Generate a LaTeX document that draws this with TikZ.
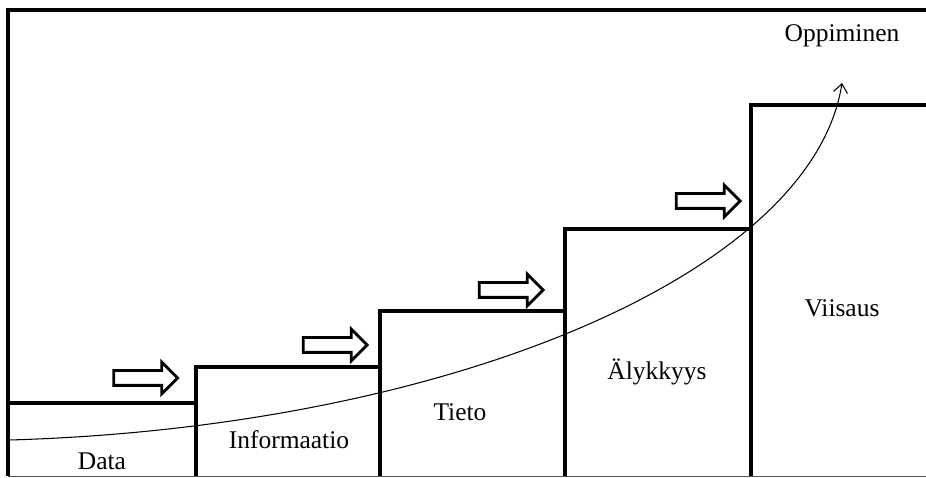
\documentclass[tikz,border=0pt]{standalone}
\usepackage{fontspec}
\setmainfont{Liberation Serif}
\usetikzlibrary{shapes.arrows, arrows.meta}

\begin{document}
\begin{tikzpicture}[stair/.style={line width=2.3pt, line join=miter},
		lbl/.style={font=\fontsize{14.5}{17}\selectfont},
		blk/.style={single arrow, draw, line width=1.6pt, inner xsep=0pt, inner ysep=0.12cm,
			minimum height=1.28cm, single arrow head extend=0.17cm, single arrow tip angle=90}]
		\useasboundingbox (0,0) rectangle (18.52,9.56);

		% frame
		\draw[line width=2.3pt] (18.6,9.36) -- (0.16,9.36) -- (0.16,0.03);
		\draw[gray!70!black, line width=1.1pt] (0.16,0.03) -- (18.6,0.03);

		% stairs
		\draw[stair] (0.16,0.03) |- (3.92,1.5) -- (3.92,0.03);
		\draw[stair] (3.92,1.5) |- (7.6,2.22) -- (7.6,0.03);
		\draw[stair] (7.6,2.22) |- (11.3,3.34) -- (11.3,0.03);
		\draw[stair] (11.3,3.34) |- (15.02,4.98) -- (15.02,0.03);
		\draw[stair] (15.02,4.98) |- (18.7,7.46);

		\node [lbl] (data) at (2.04,0.34) {Data};
		\node [lbl] (info) at (5.78,0.76) {Informaatio};
		\node [lbl] (tieto) at (9.2,1.32) {Tieto};
		\node [lbl] (aly) at (13.14,2.12) {Älykkyys};
		\node [lbl] (viis) at (16.84,3.4) {Viisaus};
		\node [lbl] (oppi) at (16.84,8.84) {Oppiminen};

		% block arrows between the steps
		\node [blk] (a1) at (2.84,2.0) {};
		\node [blk] (a2) at (6.63,2.66) {};
		\node [blk] (a3) at (10.15,3.76) {};
		\node [blk] (a4) at (14.09,5.54) {};

		% learning curve
		\coordinate (start) at (0.2,0.76);
		\coordinate (tip) at (16.84,7.9);
		\draw[-{Straight Barb[length=5pt, width=8pt]}, line width=0.6pt]
			(start) .. controls (9.0,1.02) and (16.25,4.1) .. (tip);
	\end{tikzpicture}
\end{document}
